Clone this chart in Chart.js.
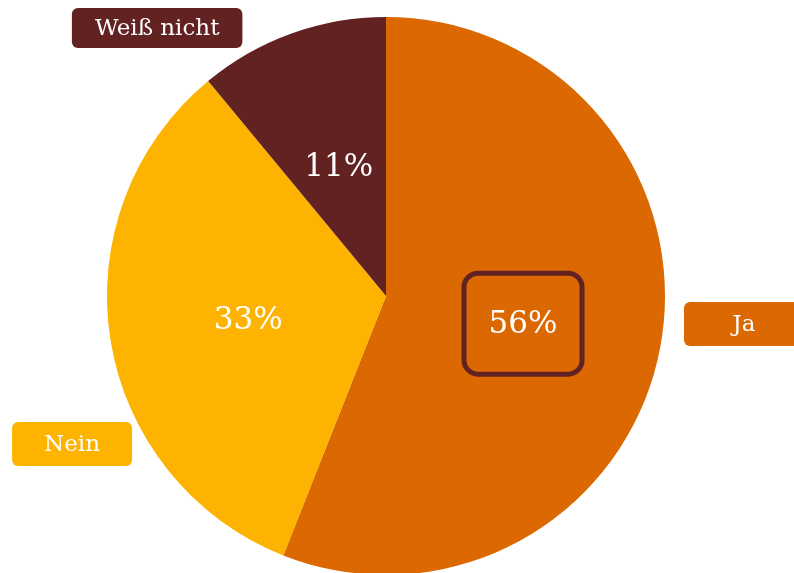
<!DOCTYPE html>
<html>
<head>
<meta charset="utf-8">
<script src="https://cdn.jsdelivr.net/npm/chart.js@4"></script>
<style>
  html, body { margin: 0; padding: 0; background: #fff; overflow: hidden; }
  #wrap { width: 794px; height: 573px; overflow: hidden; }
</style>
</head>
<body>
<div id="wrap"><canvas id="pieChart" width="794" height="600"></canvas></div>
<script>
// answers and their share in percent
const labels = ['Ja', 'Nein', 'Weiß nicht'];
const values = [56, 33, 11];
const colors = ['#DB6800', '#FDB300', '#632222'];

const FONT = "'DejaVu Serif', 'Liberation Serif', serif";

// draws the percent inside each slice and the name box outside
const sliceLabels = {
    id: 'sliceLabels',
    afterDatasetsDraw(chart, args, opts) {
        const ctx = chart.ctx;
        const arcs = chart.getDatasetMeta(0).data;
        arcs.forEach((arc, i) => {
            const p = arc.getProps(['x', 'y', 'startAngle', 'endAngle', 'outerRadius'], true);
            const mid = (p.startAngle + p.endAngle) / 2;
            const r = p.outerRadius;

            // percent inside
            const ix = p.x + Math.cos(mid) * r * opts.inner;
            const iy = p.y + Math.sin(mid) * r * opts.inner;
            ctx.save();
            ctx.font = '31px ' + FONT;
            ctx.fillStyle = '#fff';
            ctx.textAlign = 'center';
            ctx.textBaseline = 'middle';
            ctx.fillText(values[i] + '%', ix, iy + 3);
            if (i === opts.highlight) {
                ctx.strokeStyle = '#632222';
                ctx.lineWidth = 5;
                ctx.beginPath();
                ctx.roundRect(ix - 59, iy - 49, 118, 101, 14);
                ctx.stroke();
            }
            ctx.restore();

            // name box outside
            const a = mid + opts.shift[i] * Math.PI / 180;
            const ox = p.x + Math.cos(a) * r * opts.outer[i];
            const oy = p.y + Math.sin(a) * r * opts.outer[i];
            ctx.save();
            ctx.font = '23px ' + FONT;
            const w = Math.max(ctx.measureText(labels[i]).width + 46, 120);
            const h = i === 2 ? 40 : 44;
            ctx.fillStyle = colors[i];
            ctx.beginPath();
            ctx.roundRect(ox - w / 2, oy - h / 2, w, h, 6);
            ctx.fill();
            ctx.fillStyle = '#fff';
            ctx.textAlign = 'center';
            ctx.textBaseline = 'middle';
            ctx.fillText(labels[i], ox, oy + 1);
            ctx.restore();
        });
    }
};

const ctx = document.getElementById('pieChart').getContext('2d');
const chart = new Chart(ctx, {
    type: 'pie',
    data: {
        labels: labels,
        datasets: [{
            data: values,
            backgroundColor: colors,
            borderWidth: 0
        }]
    },
    options: {
        responsive: false,
        animation: false,
        layout: {
            padding: { left: 107, right: 129, top: 17, bottom: 25 }
        },
        plugins: {
            legend: { display: false },
            tooltip: { enabled: false },
            sliceLabels: {
                inner: 0.5,
                outer: [1.287, 1.244, 1.263],
                shift: [-6.33, -16.24, -20.7],
                highlight: 0
            }
        }
    },
    plugins: [sliceLabels]
});
</script>
</body>
</html>
